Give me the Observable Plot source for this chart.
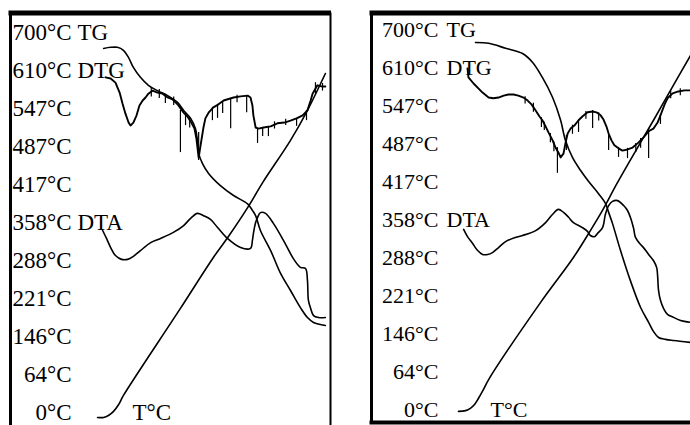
<!DOCTYPE html>
<html><head><meta charset="utf-8">
<script src="https://cdn.jsdelivr.net/npm/d3@7"></script>
<script src="https://cdn.jsdelivr.net/npm/@observablehq/plot@0.6"></script>
<style>
html,body{margin:0;padding:0;background:#fff;overflow:hidden;width:690px;height:425px}
#wrap{position:relative;width:690px;height:425px;overflow:hidden;background:#fff}
#wrap svg{position:absolute;top:0}
</style></head><body><div id="wrap"></div>
<script>
// Temperature row labels (bottom to top) and their evenly spaced levels (0..100)
const tempLabels = ["0°C","64°C","146°C","221°C","288°C","358°C","417°C","487°C","547°C","610°C","700°C"];
const tempLevels = [0,10,20,30,40,50,60,70,80,90,100];
const curveNames = ["TG","DTG","DTA"];
const curveNameLevels = [100,90,50];
const tLabel = "T°C";

// x: time (% of run), y: signal level (0..100 between 0°C and 700°C rows)
// ---------- Left sample ----------
const leftTG = [[29.1,95.8],[31.3,96.1],[33.4,96.1],[35.3,95.3],[36.9,93.4],[38.4,90.8],[40.6,88.2],[43.1,86.1],[45.9,84.7],[49.1,83.4],[52.2,81.6],[54.1,79.5],[56.3,77.4],[57.8,74.7],[58.4,71.6],[58.8,68.2],[60.0,65.5],[61.9,62.9],[65.6,59.7],[69.7,57.1],[74.1,54.9],[75.6,53.2],[76.6,51.8],[78.1,47.9],[81.3,42.6],[84.4,36.6],[87.5,32.1],[90.6,27.6],[92.8,25.0],[94.7,23.7],[98.4,22.9]];
const leftDTG = [[29.7,88.2],[31.3,87.9],[32.8,86.8],[34.1,84.2],[35.0,81.3],[35.9,78.7],[36.9,76.3],[37.5,75.5],[38.4,76.3],[39.4,78.2],[40.3,80.8],[41.3,82.1],[42.2,82.9],[43.1,83.9],[44.4,84.7],[45.9,84.2],[47.5,83.9],[49.1,82.9],[50.6,82.4],[52.2,81.1],[54.1,78.9],[55.3,77.9],[56.3,76.6],[57.5,74.7],[58.1,72.1],[58.8,67.1],[59.4,70.3],[60.3,75.0],[60.9,77.4],[61.9,78.9],[63.4,80.3],[65.0,81.1],[66.6,82.1],[69.7,82.9],[71.9,83.2],[74.1,83.4],[75.0,82.9],[75.6,80.8],[75.9,78.2],[76.6,75.0],[77.5,74.7],[79.1,75.0],[81.3,75.3],[83.4,76.1],[85.6,76.3],[87.5,76.8],[89.4,77.4],[91.3,78.2],[92.8,79.5],[93.8,82.1],[94.4,83.9],[95.9,86.1],[97.2,85.8],[98.4,85.8]];
const leftDTGspikes = [[44.0,85.5,83.0],[46.5,85.0,82.6],[48.4,83.4,81.3],[51.0,83.0,80.8],[53.1,79.5,68.4],[54.7,78.7,75.5],[56.0,77.5,74.9],[58.8,73.7,66.3],[63.1,80.3,76.8],[64.7,81.1,77.4],[66.3,81.8,78.7],[68.8,82.6,74.7],[70.8,83.5,81.5],[73.8,83.4,78.9],[77.2,74.7,70.8],[78.8,75.0,72.6],[80.6,75.3,72.6],[82.5,76.5,74.6],[86.0,77.2,75.5],[89.4,77.4,75.3],[92.5,79.5,76.8],[95.3,86.8,83.8],[97.5,86.6,84.6]];
const leftDTA = [[28.8,47.9],[30.0,45.8],[31.3,43.4],[32.8,41.3],[34.7,40.3],[36.6,40.3],[38.4,41.1],[40.6,42.6],[43.8,44.7],[46.9,45.8],[50.9,47.4],[54.1,49.2],[56.3,51.1],[58.4,52.4],[60.3,51.8],[62.5,50.8],[64.7,48.7],[67.8,45.8],[71.9,43.4],[75.0,43.2],[75.6,45.3],[75.9,47.1],[76.6,50.0],[77.2,51.3],[78.1,52.6],[79.7,52.4],[82.2,49.7],[85.3,45.3],[88.4,40.5],[90.6,38.2],[92.2,37.9],[92.8,34.7],[93.1,29.5],[93.8,27.4],[94.7,25.5],[96.3,25.0],[98.4,25.0]];
const leftT = [[27.2,-1.3],[29.1,-1.3],[30.6,-0.8],[32.2,0.3],[33.8,2.1],[35.3,4.5],[53.1,27.4],[63.4,40.8],[68.1,46.3],[74.1,53.9],[78.8,60.5],[87.5,71.6],[92.8,79.5],[98.4,89.2]];
const leftTLabelPos = [38.1, 0];

// ---------- Right sample ----------
const rightTG = [[32.5,96.8],[36.6,96.6],[41.9,95.3],[47.2,93.9],[50.3,91.6],[53.4,87.6],[56.6,82.3],[59.1,76.3],[60.6,71.0],[62.8,66.5],[65.3,63.1],[67.8,60.2],[70.9,57.0],[73.1,54.4],[74.1,52.0],[75.3,49.1],[77.8,42.0],[80.9,34.0],[84.1,26.9],[86.6,23.0],[88.1,20.6],[89.7,19.0],[91.9,18.5],[94.4,18.2],[99.7,17.7]];
const rightDTG = [[30.0,90.0],[30.3,87.6],[31.9,86.0],[33.4,84.7],[34.7,83.6],[36.6,82.3],[38.1,82.1],[39.7,82.3],[41.3,82.8],[42.8,83.1],[44.4,83.1],[45.9,82.8],[47.5,82.3],[48.8,81.5],[50.0,80.5],[51.3,78.9],[52.5,77.3],[53.4,76.3],[54.4,74.7],[55.3,73.1],[56.6,71.0],[57.5,69.1],[58.4,67.8],[59.1,66.5],[60.0,67.5],[60.6,70.2],[61.3,72.8],[62.2,74.1],[63.4,74.9],[64.7,76.3],[65.9,77.3],[67.5,78.4],[69.1,78.6],[70.3,78.4],[71.6,77.6],[72.5,76.5],[73.4,74.7],[74.1,72.8],[75.0,71.0],[75.9,69.7],[77.2,68.9],[78.4,68.3],[80.0,68.6],[81.6,69.1],[83.4,70.4],[85.0,71.8],[86.6,73.4],[88.1,74.1],[89.4,75.7],[90.3,77.6],[91.6,80.5],[92.5,82.1],[94.1,83.4],[95.9,83.9],[97.8,84.2],[99.7,84.2]];
const rightDTGspikes = [[48.0,82.5,80.6],[50.6,80.8,78.4],[53.1,77.0,74.4],[54.0,75.8,73.6],[55.9,72.8,70.4],[57.0,70.6,68.0],[58.1,69.1,62.3],[60.9,72.3,68.3],[62.8,75.0,72.6],[64.7,76.3,73.1],[67.0,78.6,76.6],[69.1,78.9,74.1],[71.0,78.3,76.1],[74.1,72.3,68.3],[77.2,69.1,66.5],[80.0,68.9,66.2],[82.6,70.2,67.8],[84.1,71.5,68.9],[86.6,74.1,66.2],[90.3,77.8,75.2],[93.5,84.0,82.0],[96.5,84.6,82.8]];
const rightDTA = [[28.8,47.5],[30.0,45.6],[31.6,43.8],[33.1,42.0],[34.7,40.9],[36.3,40.9],[37.8,41.4],[39.7,42.7],[41.9,44.3],[45.0,45.4],[47.2,45.9],[51.3,47.2],[54.4,49.3],[56.6,51.5],[58.4,52.8],[60.0,52.0],[61.6,50.7],[63.1,49.3],[65.9,48.0],[67.5,47.0],[68.4,45.9],[69.7,45.6],[70.6,46.4],[72.2,48.0],[73.1,51.5],[74.1,53.8],[75.3,54.9],[76.9,55.1],[78.8,53.8],[80.0,52.5],[80.9,50.7],[81.9,47.8],[82.5,45.4],[84.1,43.5],[85.0,42.7],[86.6,40.9],[88.1,39.3],[89.1,37.5],[89.4,35.4],[89.7,31.4],[90.3,28.8],[91.3,26.6],[92.5,25.1],[94.4,24.3],[96.6,23.5],[99.7,23.0]];
const rightT = [[27.2,-0.5],[29.4,-0.3],[30.9,0.3],[32.2,1.3],[33.4,2.9],[35.0,5.3],[36.6,7.9],[52.8,28.2],[63.1,40.1],[68.4,47.2],[72.5,53.0],[76.9,59.9],[88.8,77.3],[92.5,82.8],[99.7,93.4]];
const rightTLabelPos = [37.2, 0];

const FONT = "Liberation Serif, Times New Roman, serif";

function panel(o) {
  const marks = [
    Plot.ruleX([0], {strokeWidth: 3, stroke: "#000"}),
    Plot.ruleY([o.yDomain[1]], {strokeWidth: 5, stroke: "#000", insetLeft: -1.5, insetRight: o.rightEdge ? -1 : -10}),
  ];
  if (o.rightEdge) marks.push(Plot.ruleX([100], {strokeWidth: 2, stroke: "#000"}));
  if (o.bottomEdge) marks.push(Plot.ruleY([o.yDomain[0]], {strokeWidth: 4, stroke: "#000", insetLeft: -1.5, insetRight: -10}));
  const L = (data, sw, curve) => Plot.line(data, {x: d => d[0], y: d => d[1], stroke: "#000", strokeWidth: sw, curve: curve});
  marks.push(
    L(o.TG, 1.6, "catmull-rom"),
    L(o.DTA, 1.6, "catmull-rom"),
    L(o.DTG, 1.9, "linear"),
    Plot.ruleX(o.spikes, {x: d => d[0], y1: d => d[1], y2: d => d[2], stroke: "#000", strokeWidth: 1.2}),
    L(o.T, 1.6, "catmull-rom"),
    Plot.text(tempLabels, {y: (d, i) => tempLevels[i], text: d => d, frameAnchor: "left", dx: o.valueDx, textAnchor: "end", fontSize: o.fontSize, fontFamily: FONT, fill: "#000"}),
    Plot.text(curveNames, {y: (d, i) => curveNameLevels[i], text: d => d, frameAnchor: "left", dx: o.nameDx, textAnchor: "start", fontSize: o.fontSize, fontFamily: FONT, fill: "#000"}),
    Plot.text([o.tPos], {x: d => d[0], y: d => d[1], text: () => tLabel, textAnchor: "start", fontSize: o.fontSize, fontFamily: FONT, fill: "#000"})
  );
  const svg = Plot.plot({
    width: o.width, height: 425,
    marginLeft: o.ml, marginRight: o.mr, marginTop: 12.5, marginBottom: o.mb,
    x: {domain: [0, 100], axis: null},
    y: {domain: o.yDomain, axis: null},
    style: {background: "transparent", overflow: "visible"},
    marks
  });
  svg.style.left = o.left + "px";
  return svg;
}

const wrap = document.getElementById("wrap");
wrap.appendChild(panel({
  left: 0, width: 345, ml: 10, mr: 15, mb: 0, yDomain: [-3.42, 105.13],
  TG: leftTG, DTG: leftDTG, DTA: leftDTA, T: leftT, spikes: leftDTGspikes, tPos: leftTLabelPos,
  valueDx: 61, nameDx: 67, fontSize: 23, rightEdge: true, bottomEdge: false
}));
wrap.appendChild(panel({
  left: 345, width: 350, ml: 26, mr: 4, mb: 3, yDomain: [-3.43, 104.6],
  TG: rightTG, DTG: rightDTG, DTA: rightDTA, T: rightT, spikes: rightDTGspikes, tPos: rightTLabelPos,
  valueDx: 67, nameDx: 75, fontSize: 22, rightEdge: false, bottomEdge: true
}));
</script>
</body></html>
